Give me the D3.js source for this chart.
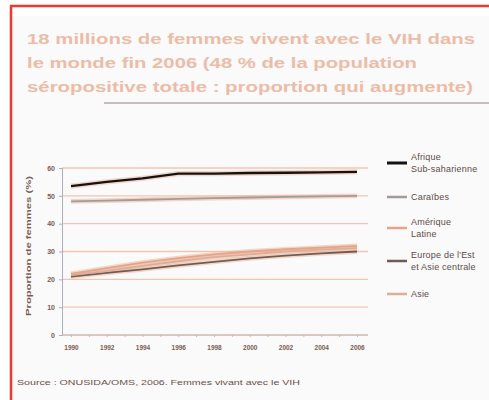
<!DOCTYPE html>
<html>
<head>
<meta charset="utf-8">
<script src="https://cdn.jsdelivr.net/npm/d3@7"></script>
<style>
  body { margin: 0; background: #fff; }
  svg { display: block; font-family: "Liberation Sans", Arial, sans-serif; }
</style>
</head>
<body>
<div id="container"></div>
<script>
/* DATA */
const titleLines = [
  "18 millions de femmes vivent avec le VIH dans",
  "le monde fin 2006 (48 % de la population",
  "séropositive totale : proportion qui augmente)"
];
const sourceText = "Source : ONUSIDA/OMS, 2006. Femmes vivant avec le VIH";
const yAxisTitle = "Proportion de femmes (%)";

const years = [1990, 1992, 1994, 1996, 1998, 2000, 2002, 2004, 2006];
const yTicks = [0, 10, 20, 30, 40, 50, 60];

const afrique  = [53.5, 55, 56.3, 58, 58, 58.2, 58.3, 58.4, 58.6];
const caraibes = [48, 48.3, 48.6, 48.9, 49.2, 49.4, 49.6, 49.8, 50];
const amerique = [22, 24, 26, 27.6, 29, 30, 30.8, 31.4, 32];
const europe   = [21, 22.3, 23.6, 25, 26.3, 27.5, 28.5, 29.3, 30];
const asie     = [21.5, 23, 24.8, 26.5, 28, 29, 30, 30.7, 31.2];

const series = [
  {label: ["Afrique", "Sub-saharienne"], values: afrique},
  {label: ["Caraïbes"], values: caraibes},
  {label: ["Amérique", "Latine"], values: amerique},
  {label: ["Europe de l'Est", "et Asie centrale"], values: europe},
  {label: ["Asie"], values: asie}
];

/* STYLE */
const colors = ["#141212", "#a39b98", "#e4a487", "#6e5d57", "#dcae9a"];
const widths = [2.3, 1.8, 1.8, 1.8, 1.8];

const width = 489, height = 400;

const svg = d3.select("#container").append("svg")
  .attr("width", width)
  .attr("height", height);

// frame
svg.append("rect").attr("x", 13).attr("y", 16).attr("width", 480).attr("height", 390)
  .attr("fill", "#fafafb");
svg.append("path")
  .attr("d", "M11,404 V6 H495")
  .attr("fill", "none").attr("stroke", "#ee3a2e").attr("stroke-width", 2.5);

// title
svg.selectAll(".title").data(titleLines).join("text")
  .attr("class", "title")
  .attr("x", 27)
  .attr("y", (d, i) => 44 + i * 24)
  .attr("textLength", (d, i) => [448, 390, 446][i])
  .attr("lengthAdjust", "spacingAndGlyphs")
  .attr("font-size", 15.5)
  .attr("font-weight", "bold")
  .attr("fill", "#ecbca6")
  .text(d => d);

svg.append("line")
  .attr("x1", 104).attr("x2", 489).attr("y1", 103).attr("y2", 103)
  .attr("stroke", "#b8aaa8").attr("stroke-width", 1.5);

/* SCALES */
const x = d3.scaleLinear().domain([1990, 2006]).range([71, 357]);
const y = d3.scaleLinear().domain([0, 60]).range([335, 168]);

// grid
svg.append("g")
  .selectAll("line").data(yTicks).join("line")
  .attr("x1", 62).attr("x2", 368)
  .attr("y1", d => y(d)).attr("y2", d => y(d))
  .attr("stroke", "#f2c5b2").attr("stroke-width", 1.4);

// y axis
const yAxis = svg.append("g")
  .attr("transform", "translate(62,0)")
  .call(d3.axisLeft(y).tickValues(yTicks).tickSize(3).tickFormat(d3.format("d")));
yAxis.select(".domain").attr("stroke", "#aab0b8");
yAxis.selectAll(".tick line").attr("stroke", "#aab0b8");
yAxis.selectAll("text").attr("font-size", 7).attr("fill", "#7a5a52")
  .attr("font-weight", "bold").attr("x", -7);

svg.append("text")
  .attr("transform", "translate(31,246) rotate(-90)")
  .attr("text-anchor", "middle")
  .attr("textLength", 140)
  .attr("lengthAdjust", "spacingAndGlyphs")
  .attr("font-size", 7.5)
  .attr("font-weight", "bold")
  .attr("fill", "#7a5a52")
  .text(yAxisTitle);

// x axis
const xAxis = svg.append("g")
  .attr("transform", `translate(0,${y(0)})`)
  .call(d3.axisBottom(x).tickValues(d3.range(1990, 2007)).tickSize(2)
    .tickFormat(d => years.includes(d) ? d : ""));
xAxis.select(".domain").attr("d", `M62,0H368`).attr("stroke", "#c9b8b8");
xAxis.selectAll(".tick line").attr("stroke", "#c9b8b8");
xAxis.selectAll("text").attr("font-size", 6.5).attr("fill", "#7a5a52")
  .attr("font-weight", "bold").attr("y", 10);

/* LINES */
const line = d3.line()
  .x((d, i) => x(years[i]))
  .y(d => y(d));

const lines = svg.append("g");
lines.selectAll(".halo").data(series).join("path")
  .attr("class", "halo")
  .attr("d", d => line(d.values))
  .attr("fill", "none")
  .attr("stroke", "#efb89f")
  .attr("stroke-opacity", 0.55)
  .attr("stroke-width", (d, i) => widths[i] + 3)
  .attr("stroke-linejoin", "round");
lines.selectAll(".serie").data(series).join("path")
  .attr("class", "serie")
  .attr("d", d => line(d.values))
  .attr("fill", "none")
  .attr("stroke", (d, i) => colors[i])
  .attr("stroke-width", (d, i) => widths[i])
  .attr("stroke-linejoin", "round");

/* LEGEND */
const legendY = [163, 197, 228, 261, 294];
const leg = svg.append("g").selectAll("g").data(series).join("g")
  .attr("transform", (d, i) => `translate(0,${legendY[i]})`);
leg.append("line")
  .attr("x1", 387).attr("x2", 407)
  .attr("stroke", (d, i) => colors[i])
  .attr("stroke-width", (d, i) => widths[i] + 0.7);
leg.selectAll("text").data(d => d.label.map((t, k) => ({t, k, n: d.label.length}))).join("text")
  .attr("x", 411)
  .attr("y", d => d.n === 1 ? 3 : -3 + d.k * 12)
  .attr("font-size", 9)
  .attr("letter-spacing", 0.2)
  .attr("fill", "#5e4a46")
  .text(d => d.t);

// source
svg.append("text")
  .attr("x", 17).attr("y", 385)
  .attr("textLength", 283)
  .attr("lengthAdjust", "spacingAndGlyphs")
  .attr("font-size", 7.5)
  .attr("fill", "#6e5048")
  .text(sourceText);
</script>
</body>
</html>
